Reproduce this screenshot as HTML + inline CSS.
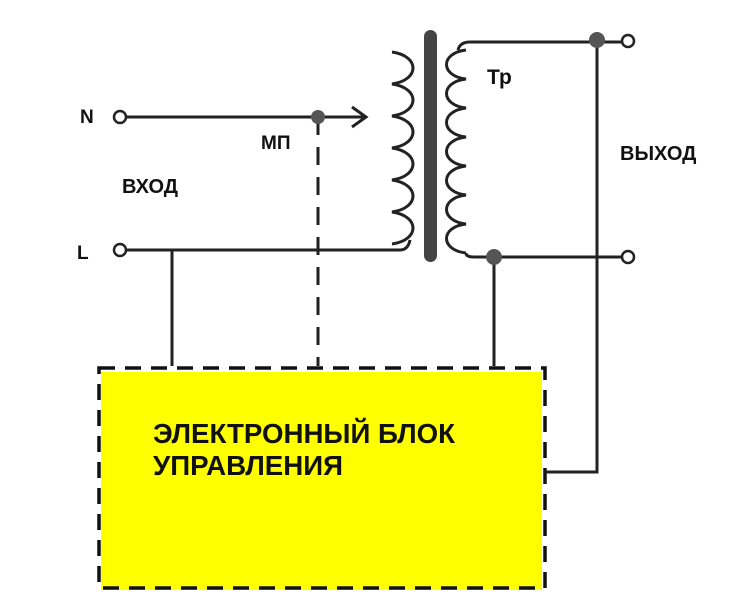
<!DOCTYPE html>
<html><head><meta charset="utf-8"><style>
body{margin:0;background:#fff}
svg{display:block}
text{font-family:"Liberation Sans",sans-serif;font-weight:bold;fill:#111}
</style></head><body>
<svg width="750" height="600" viewBox="0 0 750 600">
<rect x="101" y="372" width="441" height="218" fill="#ffff00"/>
<rect x="99" y="368" width="446" height="220" fill="none" stroke="#111" stroke-width="3.5" stroke-dasharray="16,10"/>
<g stroke="#222" stroke-width="3" fill="none">
<line x1="126" y1="117" x2="365" y2="117"/>
<polyline points="352,107 366,117 352,127"/>
<line x1="318" y1="117" x2="318" y2="366" stroke-dasharray="18,12"/>
<path d="M126,250 H400 Q408,250 410,240"/>
<line x1="172" y1="250" x2="172" y2="366"/>
<path d="M392,52 c28,4 28,28 0,32 c28,4 28,28 0,32 c28,4 28,28 0,32 c28,4 28,28 0,32 c28,4 28,28 0,32 c28,4 28,28 0,32"/>
<path d="M595,42 H470 Q460,42 458,50 M466,50 c-26,3 -26,26 0,29 c-26,3 -26,26 0,29 c-26,3 -26,26 0,29 c-26,3 -26,26 0,29 c-26,3 -26,26 0,29 c-26,3 -26,26 0,29 c-26,3 -26,26 0,29 M466,253 Q466,257 474,257 H622"/>
<line x1="600" y1="42" x2="622" y2="42"/>
<line x1="494" y1="257" x2="494" y2="366"/>
<path d="M597,42 V472 H545"/>
</g>
<rect x="424" y="30" width="13" height="232" rx="6.5" fill="#444"/>
<g fill="#555"><circle cx="318" cy="117" r="7"/><circle cx="597" cy="40" r="8"/><circle cx="494" cy="257" r="8"/></g>
<g fill="#fff" stroke="#222" stroke-width="2.5"><circle cx="120" cy="117" r="6"/><circle cx="120" cy="250" r="6"/><circle cx="628" cy="41" r="6"/><circle cx="628" cy="257" r="6"/></g>
<text x="80" y="123" font-size="19">N</text>
<text x="77" y="259" font-size="19">L</text>
<text x="122" y="193" font-size="20">ВХОД</text>
<text x="261" y="149" font-size="19">МП</text>
<text x="487" y="84" font-size="21">Тр</text>
<text x="620" y="160" font-size="20">ВЫХОД</text>
<text x="153" y="443" font-size="28" textLength="302" lengthAdjust="spacingAndGlyphs">ЭЛЕКТРОННЫЙ БЛОК</text>
<text x="153" y="475" font-size="28" textLength="190" lengthAdjust="spacingAndGlyphs">УПРАВЛЕНИЯ</text>
</svg>
</body></html>
